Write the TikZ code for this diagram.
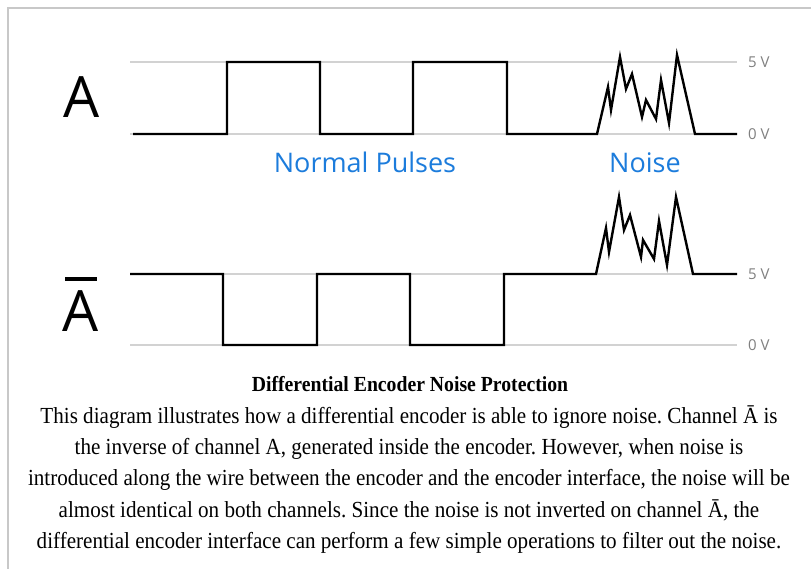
\documentclass[tikz,border=0pt]{standalone}
\usepackage{fontspec}
\setmainfont{Liberation Serif}
\newfontfamily\capfont[FakeStretch=0.917]{Liberation Serif}
\newfontfamily\labelfont{Open Sans}
\definecolor{gridgray}{HTML}{D2D2D2}
\definecolor{framegray}{HTML}{C8C8C8}
\definecolor{voltgray}{HTML}{808080}
\definecolor{pulseblue}{HTML}{1C7CDC}
\frenchspacing
\begin{document}
\begin{tikzpicture}[x=1pt,y=-1pt,
  gridline/.style={draw=gridgray,line width=2pt},
  wave/.style={draw=black,line width=2.4pt,line join=miter},
  volt/.style={font=\labelfont\fontsize{15}{17}\selectfont,text=voltgray,anchor=west,inner sep=0pt},
  chan/.style={font=\labelfont\fontsize{57}{60}\selectfont,inner sep=0pt,anchor=base},
  bluelab/.style={font=\labelfont\fontsize{27}{30}\selectfont,text=pulseblue,inner sep=0pt,anchor=base},
  captext/.style={font=\capfont\fontsize{23}{26}\selectfont,inner sep=0pt,anchor=base}]
\useasboundingbox (0,0) rectangle (811,569);
\fill[white] (0,0) rectangle (811,569);
% frame
\draw[framegray,line width=1.5pt] (8,569) -- (8,8) -- (811,8);
% grid lines
\draw[gridline] (130,62) -- (737,62);
\draw[gridline] (130,134) -- (737,134);
\draw[gridline] (130,274) -- (737,274);
\draw[gridline] (130,345) -- (737,345);
% channel A
\draw[wave] (133,134) -- (227,134) -- (227,62) -- (320,62) -- (320,134) -- (413,134) -- (413,62) -- (507,62) -- (507,134) -- (597,134)
  -- (608,87) -- (611,110) -- (620,57) -- (626,89) -- (632,74) -- (642,117) -- (646,100) -- (656,119) -- (661,80) -- (669,123) -- (677,55) -- (695,134) -- (737,134);
% channel A bar
\draw[wave] (130,274) -- (223,274) -- (223,345) -- (317,345) -- (317,274) -- (410,274) -- (410,345) -- (504,345) -- (504,274) -- (596,274)
  -- (606,228) -- (609,252) -- (619,197) -- (624,230) -- (630,215) -- (641,257) -- (643,240) -- (654,259) -- (659,221) -- (667,265) -- (676,197) -- (693,274) -- (737,274);
% voltage labels
\node[volt] (v5a) at (748,62) {5 V};
\node[volt] (v0a) at (748,134) {0 V};
\node[volt] (v5b) at (748,274) {5 V};
\node[volt] (v0b) at (748,345) {0 V};
% channel labels
\node[chan] (chA) at (82,118) {A};
\node[chan] (chAbar) at (81,331) {A};
\fill[black] (65,277) rectangle (97,281);
% blue labels
\node[bluelab] (normal) at (365,173) {Normal Pulses};
\node[bluelab] (noise) at (645,173) {Noise};
% caption
\node[captext,font=\capfont\bfseries\fontsize{21.5}{24}\selectfont] (title) at (410,391) {Differential Encoder Noise Protection};
\node[captext] (l1) at (409,423) {This diagram illustrates how a differential encoder is able to ignore noise. Channel Ā is};
\node[captext] (l2) at (409,454) {the inverse of channel A, generated inside the encoder. However, when noise is};
\node[captext] (l3) at (409,485.5) {introduced along the wire between the encoder and the encoder interface, the noise will be};
\node[captext] (l4) at (409,517) {almost identical on both channels. Since the noise is not inverted on channel Ā, the};
\node[captext] (l5) at (409,548) {differential encoder interface can perform a few simple operations to filter out the noise.};
\end{tikzpicture}
\end{document}
